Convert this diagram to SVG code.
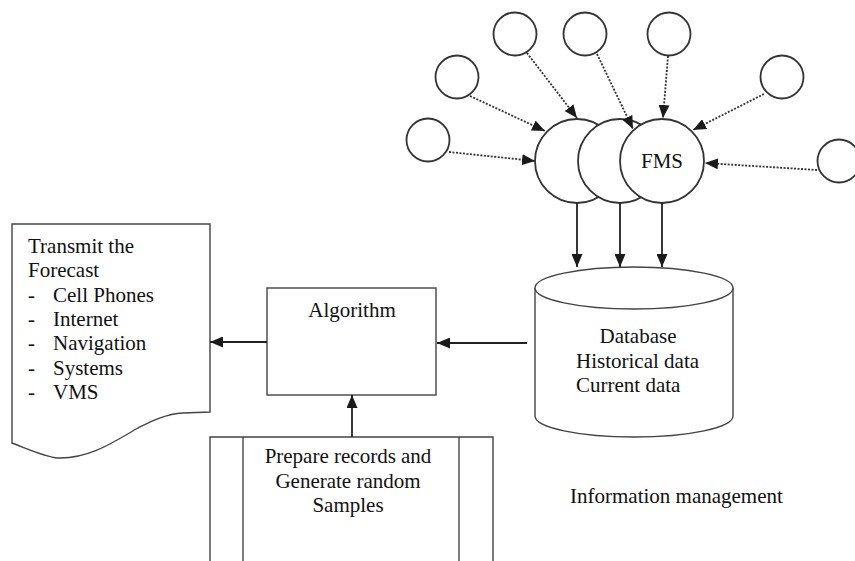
<svg xmlns="http://www.w3.org/2000/svg" width="855" height="561" viewBox="0 0 855 561">
<style>
.s{fill:#fff;stroke:#444;stroke-width:1.4}
.c{fill:#fff;stroke:#333;stroke-width:1.8}
.t{font-family:"Liberation Serif","Times New Roman",serif;font-size:21px;fill:#111}
.m{text-anchor:middle}
.d{stroke:#333;stroke-width:1.8;stroke-dasharray:2 1.5;fill:none}
.a{stroke:#222;stroke-width:1.8;fill:none}
</style>
<defs>
<marker id="ah" viewBox="0 0 13 11" refX="13" refY="5.5" markerWidth="13" markerHeight="11" markerUnits="userSpaceOnUse" orient="auto">
<path d="M0,0 L13,5.5 L0,11 Z" fill="#1a1a1a"/>
</marker>
</defs>
<rect width="855" height="561" fill="#fff"/>

<g id="sources">
<circle class="c" cx="428" cy="140" r="21.5"/>
<circle class="c" cx="457" cy="77" r="21.5"/>
<circle class="c" cx="515" cy="34" r="21.5"/>
<circle class="c" cx="585" cy="34" r="21.5"/>
<circle class="c" cx="669" cy="34" r="21.5"/>
<circle class="c" cx="782" cy="77" r="21.5"/>
<circle class="c" cx="839" cy="161" r="21.5"/>
</g>

<g id="fms">
<circle class="c" cx="577" cy="161" r="42"/>
<circle class="c" cx="620" cy="161" r="42"/>
<circle class="c" cx="662" cy="161" r="42"/>
<text class="t m" x="662" y="168">FMS</text>
</g>

<g id="database">
<path class="s" d="M535,288 V416 A99,21 0 0 0 733,416 V288"/>
<ellipse class="s" cx="634" cy="288" rx="99" ry="21"/>
<text class="t m" x="638" y="343">Database</text>
<text class="t" x="576" y="368">Historical data</text>
<text class="t" x="576" y="392">Current data</text>
</g>

<g id="algorithm">
<rect class="s" x="267" y="288" width="169" height="107"/>
<text class="t m" x="352" y="317">Algorithm</text>
</g>

<g id="prepare">
<path class="s" d="M210,562 V437 H493 V562"/>
<line class="s" x1="243" y1="437" x2="243" y2="562"/>
<line class="s" x1="459" y1="437" x2="459" y2="562"/>
<text class="t m" x="348" y="463">Prepare records and</text>
<text class="t m" x="348" y="488">Generate random</text>
<text class="t m" x="348" y="512">Samples</text>
</g>

<g id="transmit">
<path class="s" d="M12,224 H210 V412 L183,413 C165,414 150,422 138,428 C115,441 90,459 58,458 C45,457 28,449 12,443 Z"/>
<text class="t" x="28" y="253">Transmit the</text>
<text class="t" x="28" y="277">Forecast</text>
<text class="t" x="28" y="302">-</text><text class="t" x="53" y="302">Cell Phones</text>
<text class="t" x="28" y="326">-</text><text class="t" x="53" y="326">Internet</text>
<text class="t" x="28" y="350">-</text><text class="t" x="53" y="350">Navigation</text>
<text class="t" x="28" y="375">-</text><text class="t" x="53" y="375">Systems</text>
<text class="t" x="28" y="399">-</text><text class="t" x="53" y="399">VMS</text>
</g>

<g id="label">
<text class="t" x="570" y="503">Information management</text>
</g>

<g id="connectors">
<line class="d" x1="449" y1="152" x2="535" y2="161" marker-end="url(#ah)"/>
<line class="d" x1="470" y1="96" x2="545" y2="131" marker-end="url(#ah)"/>
<line class="d" x1="527" y1="53" x2="577" y2="118" marker-end="url(#ah)"/>
<line class="d" x1="597" y1="54" x2="633" y2="129" marker-end="url(#ah)"/>
<line class="d" x1="668" y1="56" x2="663" y2="118" marker-end="url(#ah)"/>
<line class="d" x1="764" y1="94" x2="693" y2="130" marker-end="url(#ah)"/>
<line class="d" x1="817" y1="170" x2="705" y2="163" marker-end="url(#ah)"/>
<line class="a" x1="577" y1="203" x2="577" y2="267" marker-end="url(#ah)"/>
<line class="a" x1="620" y1="203" x2="620" y2="267" marker-end="url(#ah)"/>
<line class="a" x1="662" y1="203" x2="662" y2="267" marker-end="url(#ah)"/>
<line class="a" x1="527" y1="343" x2="437" y2="343" marker-end="url(#ah)"/>
<line class="a" x1="267" y1="342" x2="210" y2="342" marker-end="url(#ah)"/>
<line class="a" x1="352" y1="437" x2="352" y2="395" marker-end="url(#ah)"/>
</g>
</svg>
